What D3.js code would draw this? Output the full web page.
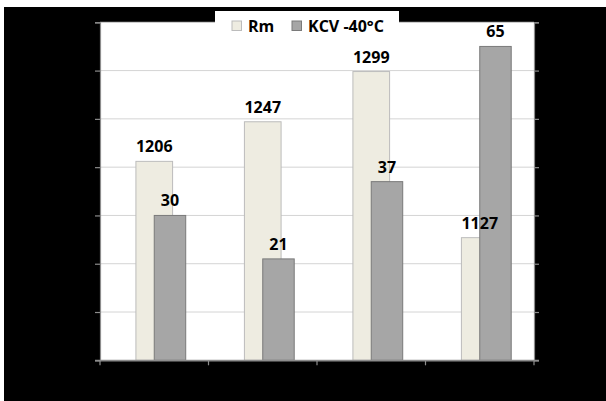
<!DOCTYPE html>
<html>
<head>
<meta charset="utf-8">
<script src="https://cdn.jsdelivr.net/npm/d3@7/dist/d3.min.js"></script>
<style>
  html, body { margin: 0; padding: 0; background: #fff; }
  svg { display: block; }
  text { font-family: "Open Sans", "Liberation Sans", Arial, sans-serif; font-weight: bold; }
</style>
</head>
<body>
<svg id="chart" width="606" height="401"></svg>
<script>
// Series data
const categories = ["S1", "S2", "S3", "S4"];
const rmValues = [1206, 1247, 1299, 1127];      // tensile strength Rm (left axis)
const kcvValues = [30, 21, 37, 65];              // impact energy KCV at -40°C (right axis)
const rmTicks = [1000, 1050, 1100, 1150, 1200, 1250, 1300, 1350];
const kcvTicks = [0, 10, 20, 30, 40, 50, 60, 70];
const seriesNames = ["Rm", "KCV -40°C"];

const W = 606, H = 401;
const plot = { left: 100, right: 534, top: 22.3, bottom: 360.3 };
const colors = { rm: "#eeece1", rmStroke: "#bcbcbc", kcv: "#a6a6a6", kcvStroke: "#7a7a7a" };

const svg = d3.select("#chart");

// dark backdrop
svg.append("rect").attr("x", 4).attr("y", 7).attr("width", W - 4).attr("height", H - 7).attr("fill", "#000");

// plot area
svg.append("rect")
  .attr("x", plot.left).attr("y", plot.top)
  .attr("width", plot.right - plot.left).attr("height", plot.bottom - plot.top)
  .attr("fill", "#fff");

const x = d3.scaleBand().domain(categories).range([plot.left, plot.right]).paddingInner(0).paddingOuter(0);
const yRm = d3.scaleLinear().domain([1000, 1350]).range([plot.bottom, plot.top]);
const yKcv = d3.scaleLinear().domain([0, 70]).range([plot.bottom, plot.top]);

// gridlines
svg.append("g").selectAll("line").data(rmTicks.slice(1)).join("line")
  .attr("x1", plot.left).attr("x2", plot.right)
  .attr("y1", d => yRm(d)).attr("y2", d => yRm(d))
  .attr("stroke", "#d4d4d4").attr("stroke-width", 1);

const bw = x.bandwidth();
const rmW = bw * 0.338, kcvW = bw * 0.29;

// Rm bars, centred on each category
svg.append("g").selectAll("rect").data(rmValues).join("rect")
  .attr("x", (d, i) => x(categories[i]) + bw / 2 - rmW / 2)
  .attr("y", d => yRm(d))
  .attr("width", rmW)
  .attr("height", d => yRm(1000) - yRm(d))
  .attr("fill", colors.rm).attr("stroke", colors.rmStroke).attr("stroke-width", 1);

// KCV bars, starting at the category centre
svg.append("g").selectAll("rect").data(kcvValues).join("rect")
  .attr("x", (d, i) => x(categories[i]) + bw / 2)
  .attr("y", d => yKcv(d))
  .attr("width", kcvW)
  .attr("height", d => yKcv(0) - yKcv(d))
  .attr("fill", colors.kcv).attr("stroke", colors.kcvStroke).attr("stroke-width", 1);

// axes (tick marks only)
const axisColor = "#8c8c8c";
const leftAxis = svg.append("g").attr("transform", `translate(${plot.left},0)`)
  .call(d3.axisLeft(yRm).tickValues(rmTicks).tickSize(5).tickFormat(""));
const rightAxis = svg.append("g").attr("transform", `translate(${plot.right},0)`)
  .call(d3.axisRight(yKcv).tickValues(kcvTicks).tickSize(5).tickFormat(""));
const bottomAxis = svg.append("g").attr("transform", `translate(0,${plot.bottom})`)
  .call(d3.axisBottom(x).tickSize(0).tickFormat(""));
bottomAxis.selectAll(".tick").remove();
// category boundary ticks
const bounds = categories.map(c => x(c)).concat([plot.right]);
bottomAxis.selectAll("line.bound").data(bounds).join("line").attr("class", "bound")
  .attr("x1", d => d).attr("x2", d => d).attr("y1", 0).attr("y2", 5);
bottomAxis.append("line").attr("x1", plot.left - 5).attr("x2", plot.right + 5).attr("y1", 0).attr("y2", 0);
[leftAxis, rightAxis, bottomAxis].forEach(g => {
  g.selectAll("path.domain").attr("stroke", axisColor).attr("stroke-width", 1.2);
  g.selectAll("line").attr("stroke", axisColor).attr("stroke-width", 1.2);
});

// value labels
svg.append("g").selectAll("text").data(rmValues).join("text")
  .attr("x", (d, i) => x(categories[i]) + bw / 2)
  .attr("y", d => yRm(d) - 9)
  .attr("text-anchor", "middle").attr("font-size", 16).attr("fill", "#000")
  .text(d => d);
svg.append("g").selectAll("text").data(kcvValues).join("text")
  .attr("x", (d, i) => x(categories[i]) + bw / 2 + kcvW / 2)
  .attr("y", d => yKcv(d) - 9)
  .attr("text-anchor", "middle").attr("font-size", 16).attr("fill", "#000")
  .text(d => d);

// legend
const legend = svg.append("g");
legend.append("rect").attr("x", 215).attr("y", 11).attr("width", 184).attr("height", 26).attr("fill", "#fff");
const items = [
  { name: seriesNames[0], fill: colors.rm, stroke: colors.rmStroke, x: 232 },
  { name: seriesNames[1], fill: colors.kcv, stroke: colors.kcvStroke, x: 292 }
];
items.forEach(it => {
  legend.append("rect").attr("x", it.x).attr("y", 21).attr("width", 9.5).attr("height", 9.5)
    .attr("fill", it.fill).attr("stroke", it.stroke).attr("stroke-width", 1);
  legend.append("text").attr("x", it.x + 16).attr("y", 31.5)
    .attr("font-size", 16).attr("fill", "#000").text(it.name);
});
</script>
</body>
</html>
